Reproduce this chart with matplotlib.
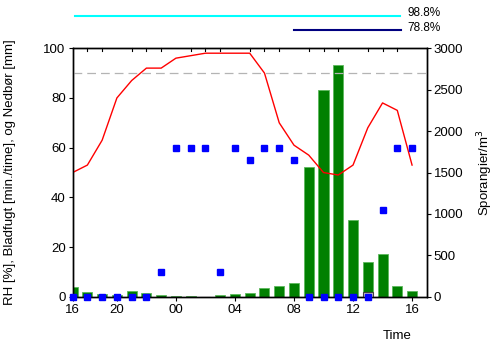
import numpy as np
import matplotlib.pyplot as plt

plt.rcParams['font.family'] = ['Liberation Sans', 'DejaVu Sans']
plt.rcParams['font.size'] = 9.5

# hourly data, index 0 = first hour on the axis
hours = np.arange(24)
tick_pos = [0, 3, 7, 11, 15, 19, 23]
tick_labels = ['16', '20', '00', '04', '08', '12', '16']

rh = [50, 53, 63, 80, 87, 92, 92, 96, 97, 98, 98, 98, 98, 90,
      70, 61, 57, 50, 49, 53, 68, 78, 75, 53]
leaf_wet = [0, 0, 0, 0, 0, 0, 10, 60, 60, 60, 10, 60, 55, 60,
            60, 55, 0, 0, 0, 0, 0, 35, 60, 60]
rain = [0, 0, 0, 0, 0, 0, 0, 0, 0, 0, 0, 0, 0, 0,
        0, 0, 0, 0, 0, 0, 2, 0, 0, 0]
sporangia = [120, 56, 32, 24, 68, 44, 24, 16, 5, 3, 24, 32, 48, 105,
             125, 165, 1570, 2490, 2800, 930, 420, 520, 130, 70]

fig = plt.figure(figsize=(4.94, 3.42), dpi=100)
ax = fig.add_axes([0.147, 0.132, 0.717, 0.727])
ax2 = ax.twinx()

# spores on the right axis, behind everything else
ax2.bar(hours, sporangia, width=0.68, color='#008000', edgecolor='#5cb85c', linewidth=0.6)
ax2.set_ylim(0, 3000)
ax2.set_yticks(np.arange(0, 3001, 500))
ax2.set_ylabel('Sporangier/m$^3$')

ax.set_zorder(ax2.get_zorder() + 1)
ax.patch.set_visible(False)

ax.axhline(90, color='#b4b4b4', lw=0.9, dashes=(7, 4))
ax.bar(hours, rain, width=0.68, color='#c0c0c0', edgecolor='#404040', linewidth=0.8)
ax.plot(hours, rh, color='red', lw=1)
ax.plot(hours, leaf_wet, 's', color='#0000ff', ms=4.5, clip_on=False, zorder=5)

ax.set_xlim(0, 24)
ax.set_ylim(0, 100)
ax.set_yticks(np.arange(0, 101, 20))
ax.set_xticks(tick_pos)
ax.set_xticklabels(tick_labels)
ax.set_ylabel('RH [%], Bladfugt [min./time], og Nedbør [mm]')
ax.yaxis.set_label_coords(-0.16, 0.5)
ax2.yaxis.set_label_coords(1.136, 0.5)

ax.tick_params(axis='x', length=3, width=0.8, pad=2)
ax.tick_params(axis='y', length=3, width=0.8, pad=2)
ax2.tick_params(axis='y', length=3, width=0.8, pad=2)
for a in (ax, ax2):
    for s in a.spines.values():
        s.set_linewidth(1)

# hourly minor ticks along the top edge
minor = [h for h in range(1, 24) if h not in tick_pos]
for h in minor:
    ax.plot([h, h], [100, 98.8], color='black', lw=0.8, clip_on=False)

ax.text(0.958, -0.135, 'Time', transform=ax.transAxes, ha='right', va='top', fontsize=9.5)

# period bars above the chart
ax.plot([0.15, 22.2], [113, 113], color='#00ffff', lw=1.5, clip_on=False)
ax.plot([15.0, 22.25], [107.4, 107.4], color='#000080', lw=1.5, clip_on=False)
ax.text(22.7, 114.2, '98.8%', ha='left', va='center', fontsize=8.5)
ax.text(22.7, 108.2, '78.8%', ha='left', va='center', fontsize=8.5)

fig.savefig('out.png', dpi=100)
